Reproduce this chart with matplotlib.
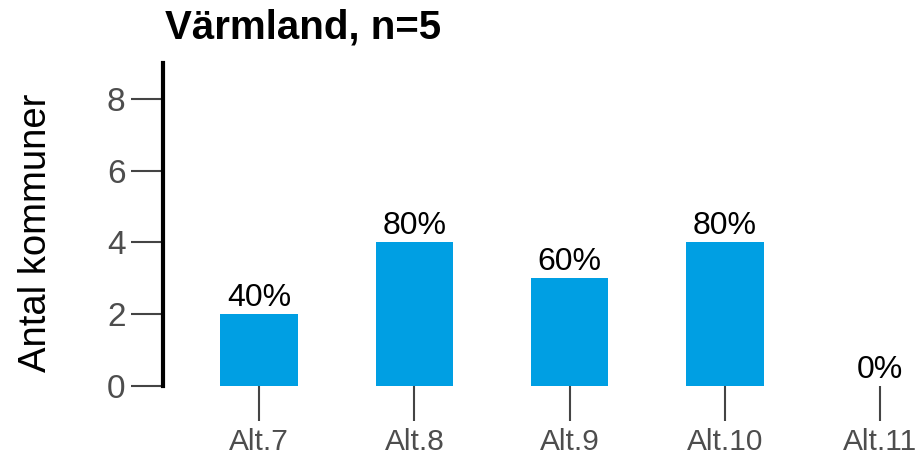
import matplotlib
matplotlib.use('Agg')
import matplotlib.pyplot as plt
import numpy as np

plt.rcParams['font.family'] = ['Liberation Sans', 'DejaVu Sans']

# data
categories = ['Alt.7', 'Alt.8', 'Alt.9', 'Alt.10', 'Alt.11']
counts = [2, 4, 3, 4, 0]
pct_labels = ['40%', '80%', '60%', '80%', '0%']
title = 'Värmland, n=5'

fig = plt.figure(figsize=(9.22, 4.61), dpi=100)
ax = fig.add_axes([0.1768, 0.1627, 0.8232, 0.7006])

x = np.arange(len(categories))
ax.bar(x, counts, width=0.5, color='#009FE3')
for xi, c, lab in zip(x, counts, pct_labels):
    ax.text(xi, c + 0.04, lab, ha='center', va='bottom', fontsize=23, color='black')

ax.set_xlim(-0.62, 4.27)
ax.set_ylim(0, 9)
ax.set_yticks([0, 2, 4, 6, 8])
ax.set_xticks(x)
ax.set_xticklabels(categories)

for s in ['top', 'right', 'bottom']:
    ax.spines[s].set_visible(False)
ax.spines['left'].set_linewidth(3)
ax.spines['left'].set_color('black')

ax.tick_params(axis='y', length=23, width=1.5, color='#444444', labelcolor='#4D4D4D',
               labelsize=24, pad=4)
ax.tick_params(axis='x', length=25, width=1.5, color='#444444', labelcolor='#4D4D4D',
               labelsize=21.5, pad=5)

ax.set_ylabel('Antal kommuner', fontsize=27.5)
ax.yaxis.set_label_coords(-0.143, 0.474)
fig.text(0.179, 0.941, title, fontsize=29, fontweight='bold', ha='left', va='center')

fig.savefig('out.png', dpi=100)
